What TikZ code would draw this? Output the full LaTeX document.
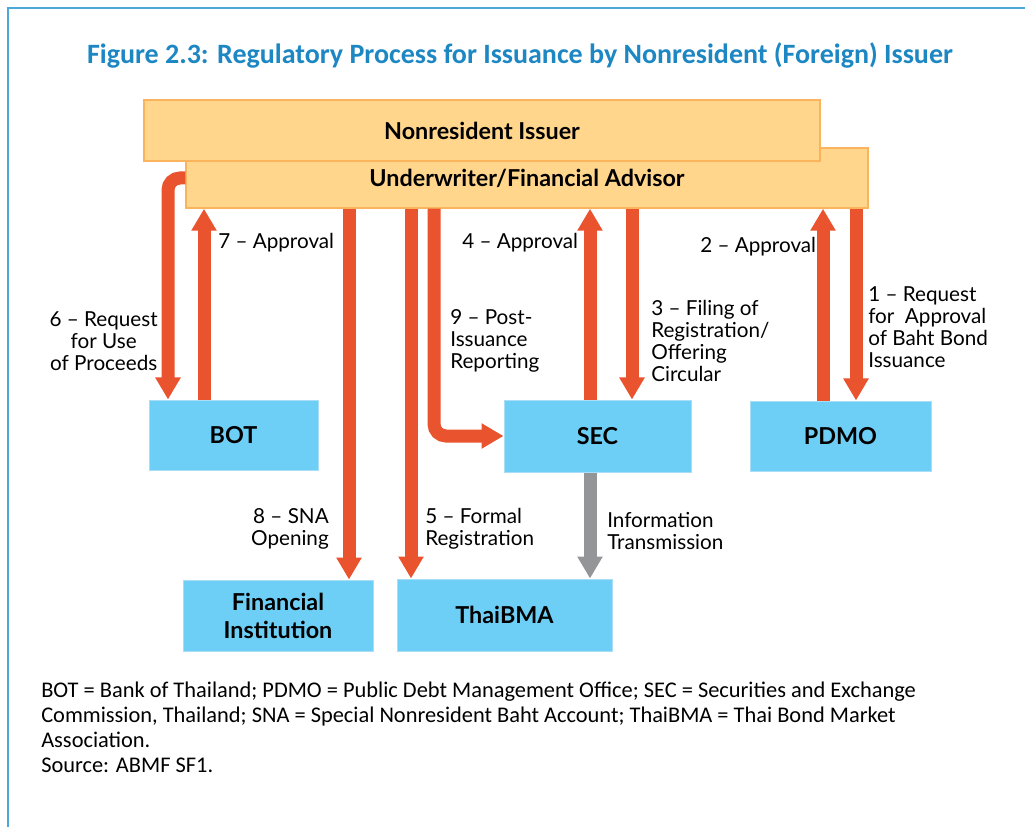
\documentclass[tikz,border=0pt]{standalone}
\usepackage{fontspec}
\setmainfont{Lato}
\newfontfamily\notefont{Carlito}
\usetikzlibrary{arrows.meta}

\definecolor{flowred}{HTML}{E9532D}
\definecolor{infogrey}{HTML}{939598}
\definecolor{agencyfill}{HTML}{6DCFF6}
\definecolor{agencyline}{HTML}{A9DEF6}
\definecolor{partyfill}{HTML}{FFD68C}
\definecolor{partyline}{HTML}{FBB45E}
\definecolor{titleblue}{HTML}{1C87C3}
\definecolor{frameblue}{HTML}{4BA8D8}

\tikzset{
  agency/.style={draw=agencyline, fill=agencyfill, line width=0.75pt, inner sep=0pt,
    align=center, font=\bfseries\fontsize{17.5}{21}\selectfont},
  party/.style={agency, draw=partyline, fill=partyfill, line width=1.1pt},
  flow/.style={draw=flowred, line width=9.75pt, -{Triangle[width=18pt,length=16.5pt]}},
  info/.style={flow, draw=infogrey},
  lbl/.style={inner sep=0pt, font=\fontsize{15.5}{16.5}\selectfont},
}

\begin{document}
\begin{tikzpicture}[x=0.75pt, y=-0.75pt]
  \useasboundingbox (0,0) rectangle (1025,827);

  % Frame and title
  \draw[frameblue, line width=1.5pt] (1025,8) -- (8,8) -- (8,827);
  \node[font=\notefont\bfseries\fontsize{21}{25}\selectfont, text=titleblue] (title) at (520,55)
    {Figure 2.3: Regulatory Process for Issuance by Nonresident (Foreign) Issuer};

  % Boxes
  \node[party, minimum width=511.5pt, minimum height=45pt] (uw) at (527,178) {\raisebox{-2pt}{Underwriter/Financial Advisor}};
  \node[party, minimum width=507pt, minimum height=45.75pt] (issuer) at (482,130.5) {Nonresident Issuer};
  \node[agency, minimum width=126.75pt, minimum height=52.5pt] (bot) at (233.5,435) {BOT};
  \node[agency, minimum width=140.25pt, minimum height=54pt] (sec) at (597.5,436) {SEC};
  \node[agency, minimum width=135.75pt, minimum height=52.5pt] (pdmo) at (840.5,436) {PDMO};
  \node[agency, minimum width=142.5pt, minimum height=53.25pt] (fin) at (278,615.5) {Financial\\Institution};
  \node[agency, minimum width=161.25pt, minimum height=54pt] (bma) at (504.5,615) {ThaiBMA};

  % Arrow positions
  \coordinate (a6) at (168,178);
  \coordinate (a7) at (204,0);
  \coordinate (a8) at (349,0);
  \coordinate (a5) at (411,0);
  \coordinate (a9) at (434,436);
  \coordinate (a4) at (590,0);
  \coordinate (a3) at (632,0);
  \coordinate (a2) at (823,0);
  \coordinate (a1) at (856,0);

  % Arrows
  \draw[flow, rounded corners=9pt] (uw.west |- a6) -| (bot.north -| a6);
  \draw[flow] (bot.north -| a7) -- (uw.south -| a7);
  \draw[flow] (uw.south -| a8) -- (fin.north -| a8);
  \draw[flow] (uw.south -| a5) -- (bma.north -| a5);
  \draw[flow, rounded corners=9pt] (uw.south -| a9) |- (sec.west |- a9);
  \draw[flow] (sec.north -| a4) -- (uw.south -| a4);
  \draw[flow] (uw.south -| a3) -- (sec.north -| a3);
  \draw[flow] (pdmo.north -| a2) -- (uw.south -| a2);
  \draw[flow] (uw.south -| a1) -- (pdmo.north -| a1);
  \draw[info] (sec.south -| a4) -- (bma.north -| a4);

  % Labels
  \node[lbl, anchor=east, align=center] (l6) at (158,341) {6 – Request\\for Use\\of Proceeds};
  \node[lbl, anchor=west] (l7) at (218,243) {7 – Approval};
  \node[lbl, anchor=west] (l4) at (462,243) {4 – Approval};
  \node[lbl, anchor=west] (l2) at (700,247) {2 – Approval};
  \node[lbl, anchor=west, align=left] (l9) at (450,341) {9 – Post-\\Issuance\\Reporting};
  \node[lbl, anchor=west, align=left] (l3) at (651,341) {3 – Filing of\\Registration/\\Offering\\Circular};
  \node[lbl, anchor=west, align=left] (l1) at (868,327) {1 – Request\\for~ Approval\\of Baht Bond\\Issuance};
  \node[lbl, anchor=east, align=right] (l8) at (329,529) {8 – SNA\\Opening};
  \node[lbl, anchor=west, align=left] (l5) at (425,529) {5 – Formal\\Registration};
  \node[lbl, anchor=west, align=left] (li) at (607,531) {Information\\Transmission};

  % Notes
  \node[anchor=west, align=left, inner sep=0pt, font=\notefont\fontsize{16.8}{18.75}\selectfont] (notes) at (41,727)
    {BOT = Bank of Thailand; PDMO = Public Debt Management Office; SEC = Securities and Exchange\\
     Commission, Thailand; SNA = Special Nonresident Baht Account; ThaiBMA = Thai Bond Market\\
     Association.\\
     Source: ABMF SF1.};
\end{tikzpicture}
\end{document}
